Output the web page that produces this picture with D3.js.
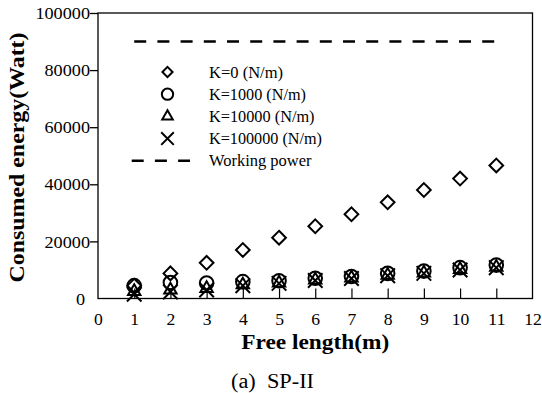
<!DOCTYPE html>
<html>
<head>
<meta charset="utf-8">
<script src="https://cdn.jsdelivr.net/npm/d3@7"></script>
<style>
html,body{margin:0;padding:0;background:#fff;}
svg{display:block;}
text{font-family:"Liberation Serif","Times New Roman",serif;fill:#000;}
</style>
</head>
<body>
<svg id="chart" width="542" height="393"></svg>
<script>
const freeLength = [1,2,3,4,5,6,7,8,9,10,11];
const k0      = [4500, 8800, 12500, 17000, 21300, 25300, 29500, 33700, 38000, 42000, 46600];
const k1000   = [4500, 5600, 5400, 5900, 6200, 7100, 7700, 8800, 9600, 10800, 11700];
const k10000  = [2500, 3000, 3500, 4800, 5500, 6500, 7200, 8200, 9000, 10200, 11000];
const k100000 = [1500, 2300, 3000, 4500, 5300, 6300, 7000, 8000, 8800, 10000, 10800];
const workingPower = 90000;
const xTicks = [0,1,2,3,4,5,6,7,8,9,10,11,12];
const yTicks = [0,20000,40000,60000,80000,100000];
const seriesNames = ["K=0 (N/m)","K=1000 (N/m)","K=10000 (N/m)","K=100000 (N/m)","Working power"];

const svg = d3.select("#chart");
const L = 98, R = 532.5, T = 13, B = 298.5;
const x = d3.scaleLinear().domain([0,12]).range([L,R]);
const y = d3.scaleLinear().domain([0,100000]).range([B,T]);

// frame
svg.append("rect").attr("x",L).attr("y",T).attr("width",R-L).attr("height",B-T)
  .attr("fill","none").attr("stroke","#000").attr("stroke-width",1.3);

// y axis (outward ticks)
const yAx = svg.append("g").attr("transform",`translate(${L},0)`)
  .call(d3.axisLeft(y).tickValues(yTicks).tickSize(8).tickPadding(0).tickFormat(d3.format("d")));
yAx.select(".domain").remove();
yAx.attr("font-family",null).attr("font-size",null);
yAx.selectAll(".tick line").attr("stroke","#000").attr("stroke-width",1.3)
  .filter(d=>d===0).remove();
yAx.selectAll(".tick text")
  .style("font-size","17px").attr("fill","#000")
  .attr("x", d=> d===0 ? -13 : -8)
  .attr("dy","0.33em")
  .attr("lengthAdjust","spacingAndGlyphs")
  .attr("textLength", d=> String(d).length*9.1);

// x axis (inward ticks)
const xAx = svg.append("g").attr("transform",`translate(0,${B})`)
  .call(d3.axisBottom(x).tickValues(xTicks).tickSize(0).tickPadding(0).tickFormat(d3.format("d")));
xAx.select(".domain").remove();
xAx.attr("font-family",null).attr("font-size",null);
xAx.selectAll(".tick text").style("font-size","16px").attr("fill","#000")
  .attr("y",26.5).attr("dy",null)
  .attr("lengthAdjust","spacingAndGlyphs")
  .attr("textLength", d=> String(d).length*8.8);
xAx.selectAll(".tick").filter(d=>d>0 && d<12).append("line")
  .attr("y1",0).attr("y2",-10).attr("stroke","#000").attr("stroke-width",1.2);

// axis titles
svg.append("text").attr("x",(L+R)/2).attr("y",349).attr("text-anchor","middle")
  .style("font-size","21px").style("font-weight","bold")
  .attr("textLength",148).attr("lengthAdjust","spacingAndGlyphs").text("Free length(m)");
svg.append("text").attr("transform",`translate(24,${157.5}) rotate(-90)`).attr("text-anchor","middle")
  .style("font-size","22px").style("font-weight","bold")
  .attr("textLength",250).attr("lengthAdjust","spacingAndGlyphs").text("Consumed energy(Watt)");
svg.append("text").attr("x",272.5).attr("y",388).attr("text-anchor","middle")
  .style("font-size","20px").attr("xml:space","preserve")
  .attr("textLength",83).attr("lengthAdjust","spacingAndGlyphs").text("(a)  SP-II");

// working power
svg.append("line").attr("x1",x(1)).attr("x2",x(11)).attr("y1",y(workingPower)).attr("y2",y(workingPower))
  .attr("stroke","#000").attr("stroke-width",2.5).attr("stroke-dasharray","12,11.2");

const dataSymbols = [
  d3.symbol().type(d3.symbolDiamond2).size(120),
  d3.symbol().type(d3.symbolCircle).size(145),
  d3.symbol().type(d3.symbolTriangle2).size(110),
  d3.symbol().type(d3.symbolTimes).size(140)
];
const legendSymbols = [
  d3.symbol().type(d3.symbolDiamond2).size(66),
  d3.symbol().type(d3.symbolCircle).size(100),
  d3.symbol().type(d3.symbolTriangle2).size(80),
  d3.symbol().type(d3.symbolTimes).size(105)
];
const series = [k0,k1000,k10000,k100000];
const plotG = svg.append("g");
series.forEach((vals,i)=>{
  plotG.selectAll(null).data(freeLength.map((f,j)=>[f,vals[j]])).enter().append("path")
    .attr("d",dataSymbols[i]())
    .attr("transform",d=>`translate(${x(d[0])},${y(d[1])})`)
    .attr("fill","none").attr("stroke","#000").attr("stroke-width",2);
});

// legend
const lg = svg.append("g");
const rows = [72,94.2,116.4,138.6,160.8];
const labelLen = [74,97,105.5,113,102.5];
seriesNames.forEach((name,i)=>{
  if(i<4){
    lg.append("path").attr("d",legendSymbols[i]()).attr("transform",`translate(167.5,${rows[i]})`)
      .attr("fill","none").attr("stroke","#000").attr("stroke-width",2);
  } else {
    lg.append("line").attr("x1",131.7).attr("x2",190).attr("y1",rows[i]).attr("y2",rows[i])
      .attr("stroke","#000").attr("stroke-width",2.5).attr("stroke-dasharray","12,11.2");
  }
  lg.append("text").attr("x",209).attr("y",rows[i]).attr("dy","0.35em")
    .style("font-size","16px")
    .attr("textLength",labelLen[i]).attr("lengthAdjust","spacingAndGlyphs").text(name);
});
</script>
</body>
</html>
